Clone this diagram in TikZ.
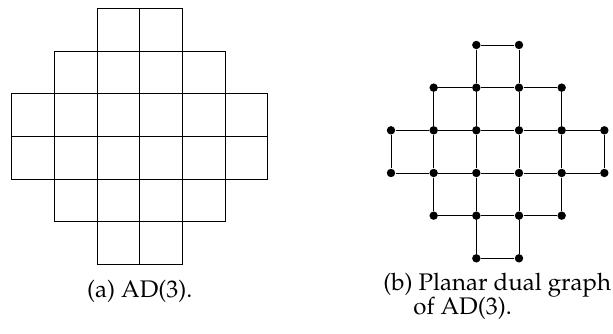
\documentclass[tikz,border=0pt]{standalone}
\usepackage[T1]{fontenc}
\usepackage{mathpazo}
\usetikzlibrary{positioning}

\begin{document}
\begin{tikzpicture}
[x=21.33pt, y=21.33pt, dot/.style={circle, fill=black, inner sep=0pt, minimum size=4.2pt}, caption/.style={inner sep=0pt, font=\fontsize{12}{14}\selectfont}]
\useasboundingbox (0,0) rectangle (14.366,7.804);
% AD(3)
\begin{scope}[shift={(0.274,7.610)}]
\foreach \j/\a/\b in {1/3/4, 2/2/5, 3/1/6, 4/1/6, 5/2/5, 6/3/4}
  \foreach \i in {\a,...,\b}
    \draw (\i-1,-\j) rectangle (\i,-\j+1);
\end{scope}
% planar dual graph
\begin{scope}[shift={(9.163,6.750)}]
\foreach \j/\a/\b in {1/3/4, 2/2/5, 3/1/6, 4/1/6, 5/2/5, 6/3/4}
  \foreach \i in {\a,...,\b}
    \node (v\i-\j) [dot] at (\i-1,-\j+1) {};
\end{scope}
\foreach \j/\a/\b in {1/3/4, 2/2/5, 3/1/6, 4/1/6, 5/2/5, 6/3/4}
  \foreach \i in {\a,...,\b}{
    \pgfmathtruncatemacro{\k}{\i+1}
    \ifnum\i<\b \draw (v\i-\j) -- (v\k-\j); \fi
  }
\foreach \i/\a/\b in {1/3/4, 2/2/5, 3/1/6, 4/1/6, 5/2/5, 6/3/4}
  \foreach \j in {\a,...,\b}{
    \pgfmathtruncatemacro{\k}{\j+1}
    \ifnum\j<\b \draw (v\i-\j) -- (v\i-\k); \fi
  }
% captions
\node (capA) [caption, anchor=base] at (3.274,0.837) {(a) AD(3).};
\node (capB) [caption, anchor=base west] at (8.976,0.991) {(b) Planar dual graph};
\node (capC) [caption, anchor=base west] at (9.679,0.422) {of AD(3).};
\end{tikzpicture}
\end{document}
